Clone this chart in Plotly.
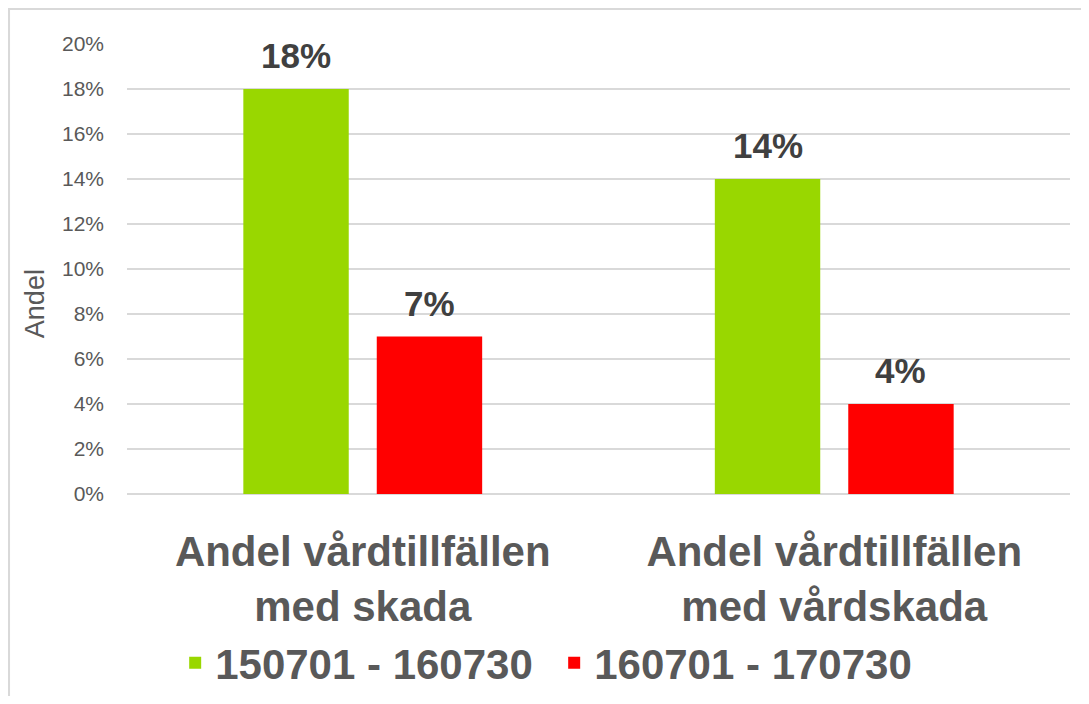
import plotly.graph_objects as go

categories = ["Andel vårdtillfällen<br>med skada", "Andel vårdtillfällen<br>med vårdskada"]
series_names = ["150701 - 160730", "160701 - 170730"]
values_1 = [0.18, 0.14]
values_2 = [0.07, 0.04]
colors = ["#99D700", "#FF0000"]

BARGAP = 0.434
GROUPGAP = 0.21
FONT = "Liberation Sans"

fig = go.Figure()
for name, vals, col in zip(series_names, [values_1, values_2], colors):
    fig.add_trace(go.Bar(x=categories, y=vals, name="<b>" + name + "</b>",
                         marker_color=col, marker_line_width=0))

# value labels above bars (offset of each bar inside its group)
slot = (1 - BARGAP) / 2
for j, vals in enumerate([values_1, values_2]):
    off = (j - 0.5) * slot
    for i, v in enumerate(vals):
        fig.add_annotation(x=i + off, y=v, xref="x", yref="y",
                           text=f"<b>{v:.0%}</b>", showarrow=False,
                           yanchor="bottom", yshift=12,
                           font=dict(family=FONT, size=35, color="#404040"))

# y title (sits a bit below the middle, like the original)
fig.add_annotation(x=-0.0976, y=0.424, xref="paper", yref="paper", text="Andel",
                   textangle=-90, showarrow=False, xanchor="center", yanchor="middle",
                   font=dict(family=FONT, size=27, color="#595959"))

# page body adds 8px margin -> figure is 1073x688
fig.update_layout(
    width=1073, height=688,
    margin=dict(l=119, r=11, t=36, b=202, autoexpand=False),
    paper_bgcolor="white", plot_bgcolor="white",
    barmode="group", bargap=BARGAP, bargroupgap=GROUPGAP,
    font=dict(family=FONT, color="#595959"),
    showlegend=True,
    legend=dict(orientation="h", x=0.453, xanchor="center", y=-0.30, yanchor="top",
                font=dict(size=42, color="#595959", family=FONT),
                bgcolor="rgba(0,0,0,0)", traceorder="normal", entrywidth=334),
    # outer frame
    shapes=[dict(type="rect", xref="paper", yref="paper",
                 x0=-0.1251, x1=1.05, y0=-0.6, y1=1.0778,
                 line=dict(color="#d9d9d9", width=2), layer="below")],
)
fig.update_yaxes(range=[0, 0.2], dtick=0.02, tickformat=".0%", automargin=False,
                 showgrid=True, gridcolor="#d9d9d9", gridwidth=1.5,
                 zeroline=True, zerolinecolor="#d9d9d9", zerolinewidth=1.5,
                 tickfont=dict(size=21, color="#595959"), ticklabelstandoff=22)
fig.update_xaxes(tickvals=categories, ticktext=[f"<b>{c}</b>" for c in categories],
                 tickfont=dict(size=42, color="#595959", family=FONT),
                 showline=False, automargin=False, ticklabelstandoff=29)

fig.write_html("out.html")
